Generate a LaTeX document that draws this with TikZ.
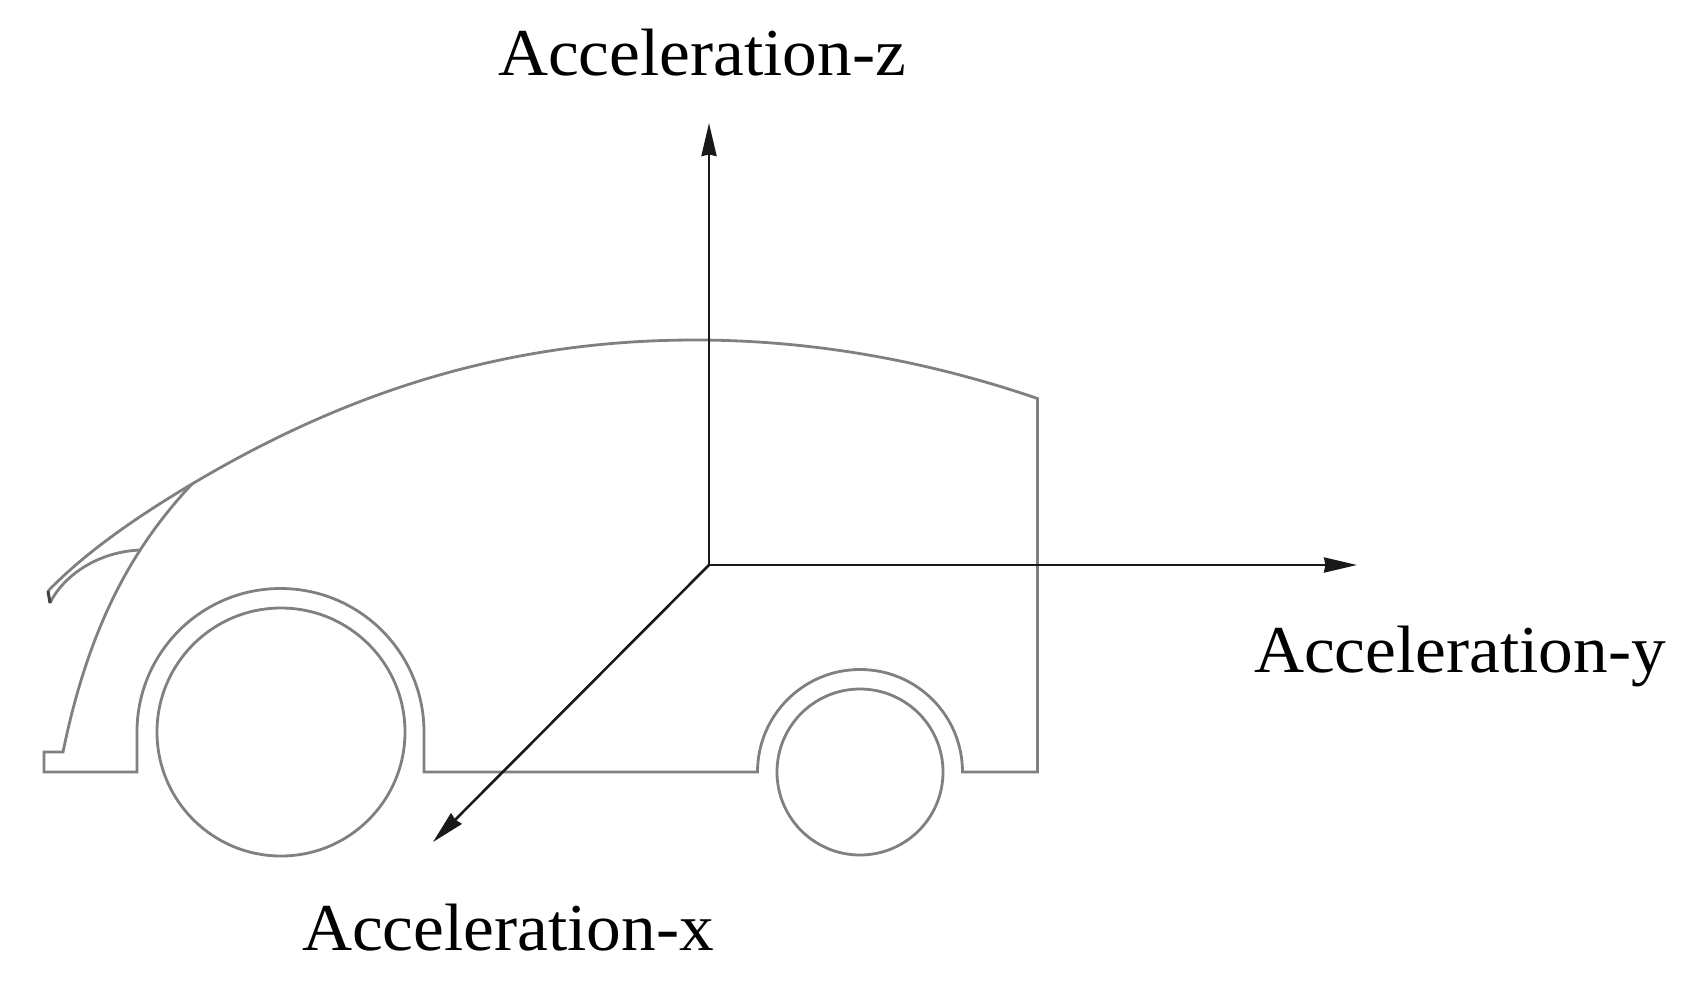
\documentclass[tikz,border=0pt]{standalone}
\usepackage{fontspec}
\setmainfont[FakeStretch=1.035]{Liberation Serif}
\usetikzlibrary{arrows.meta}
\tikzset{
  body/.style={draw=black!50, line width=2.8pt, line join=miter},
  axis/.style={draw=black!90, line width=2.6pt, -{Stealth[length=33pt,width=15pt,inset=1.5pt]}},
  lab/.style={anchor=base west, inner sep=0pt, outer sep=0pt, font=\fontsize{67pt}{70pt}\selectfont, text=black}
}
\begin{document}
\begin{tikzpicture}[x=1pt,y=-1pt]
\useasboundingbox (0,0) rectangle (1689,999);
\fill[white] (0,0) rectangle (1689,999);
% body outline
\coordinate (J) at (192,484);
\coordinate (B) at (140,550);
\coordinate (H) at (48,591);
\coordinate (L) at (50,603);
\draw[body] (J) .. controls (340,396) and (500,340) .. (695,340)
  .. controls (810,340) and (925,360) .. (1037.5,398.5)
  -- (1037.5,772) -- (962.5,772)
  arc[start angle=0,end angle=-180,radius=102.5]
  -- (424,772) -- (424,732)
  arc[start angle=0,end angle=-180,radius=143.5]
  -- (137,772) -- (44,772) -- (44,752) -- (63,752)
  .. controls (88,630) and (130,550) .. (J);
% hood
\draw[body] (J) .. controls (140,515) and (88,550) .. (H);
\draw[body] (L) .. controls (62,578) and (95,552) .. (B);
\draw[draw=black!75, line width=3pt] (H) -- (L);
% wheels
\node[body,circle,minimum size=248pt,inner sep=0pt] (w1) at (281,732) {};
\node[body,circle,minimum size=166pt,inner sep=0pt] (w2) at (860,772) {};
% axes
\coordinate (O) at (709,565);
\coordinate (Z) at (709,123);
\coordinate (Y) at (1357,565);
\coordinate (X) at (433,842);
\draw[axis] (O) -- (Z);
\draw[axis] (O) -- (Y);
\draw[axis] (O) -- (X);
% labels
\node[lab] (lz) at (498,75) {Acceleration-z};
\node[lab] (ly) at (1254,672) {Acceleration-y};
\node[lab] (lx) at (302,950) {Acceleration-x};
\end{tikzpicture}
\end{document}
